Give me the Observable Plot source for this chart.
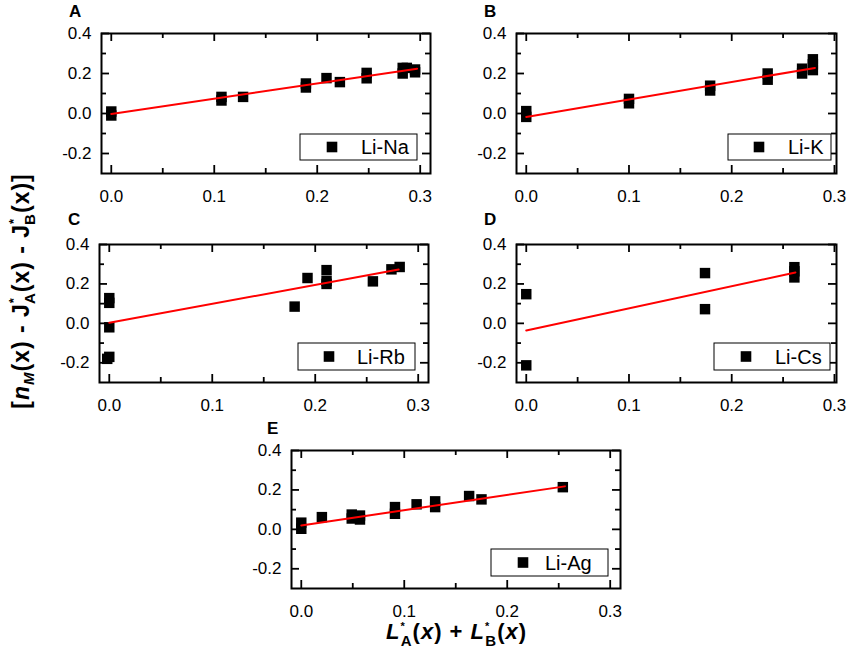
<!DOCTYPE html>
<html>
<head>
<meta charset="utf-8">
<script src="https://cdn.jsdelivr.net/npm/d3@7"></script>
<script src="https://cdn.jsdelivr.net/npm/@observablehq/plot@0.6"></script>
<style>
  html, body { margin: 0; padding: 0; background: #fff; overflow: hidden; }
  #wrap { position: relative; width: 847px; height: 655px; background: #fff; overflow: hidden;
          font-family: Arial, "Liberation Sans", sans-serif; }
  #wrap svg { position: absolute; }
</style>
</head>
<body>
<div id="wrap"></div>
<script>
// ---- tick values ----
const xMajorTicks = [0, 0.1, 0.2, 0.3];
const xMinorTicks = [0.05, 0.15, 0.25];
const yMajorTicks = [-0.2, 0, 0.2, 0.4];
const yMinorTicks = [-0.1, 0.1, 0.3];

// ---- panel labels / series names ----
const panelLetters = ["A", "B", "C", "D", "E"];
const seriesNames = ["Li-Na", "Li-K", "Li-Rb", "Li-Cs", "Li-Ag"];

// ---- A: Li-Na ----
const liNaX = [0, 0, 0.107, 0.107, 0.128, 0.189, 0.189, 0.209, 0.222, 0.248, 0.248, 0.283, 0.283, 0.287, 0.295, 0.295];
const liNaY = [0.01, -0.01, 0.083, 0.065, 0.083, 0.15, 0.13, 0.177, 0.157, 0.203, 0.176, 0.228, 0.2, 0.228, 0.22, 0.206];
const liNaFitX = [0, 0.297];
const liNaFitY = [-0.002, 0.224];

// ---- B: Li-K ----
const liKX = [0, 0, 0.1, 0.1, 0.179, 0.179, 0.235, 0.235, 0.2685, 0.2685, 0.279, 0.279, 0.279];
const liKY = [0.012, -0.017, 0.073, 0.051, 0.139, 0.115, 0.2, 0.169, 0.224, 0.2, 0.271, 0.246, 0.217];
const liKFitX = [0, 0.281];
const liKFitY = [-0.017, 0.228];

// ---- C: Li-Rb ----
const liRbX = [0, 0, 0, 0, -0.002, 0.18, 0.1925, 0.211, 0.211, 0.211, 0.256, 0.274, 0.282];
const liRbY = [0.128, 0.104, -0.02, -0.17, -0.18, 0.085, 0.23, 0.27, 0.215, 0.2, 0.213, 0.274, 0.286];
const liRbFitX = [0, 0.281];
const liRbFitY = [0.003, 0.273];

// ---- D: Li-Cs ----
const liCsX = [0, 0, 0.174, 0.174, 0.261, 0.261, 0.261];
const liCsY = [0.148, -0.213, 0.255, 0.072, 0.285, 0.264, 0.233];
const liCsFitX = [0, 0.262];
const liCsFitY = [-0.036, 0.258];

// ---- E: Li-Ag ----
const liAgX = [0, 0, 0.02, 0.049, 0.049, 0.057, 0.057, 0.091, 0.091, 0.112, 0.13, 0.13, 0.163, 0.175, 0.254];
const liAgY = [0.034, 0.003, 0.062, 0.075, 0.055, 0.07, 0.05, 0.113, 0.079, 0.127, 0.142, 0.113, 0.169, 0.152, 0.214];
const liAgFitX = [0, 0.256];
const liAgFitY = [0.02, 0.218];

const FONT = 'Arial, "Liberation Sans", sans-serif';
const fmt = d => (d < 0 ? "-" : "") + Math.abs(d).toFixed(1);
const wrap = document.getElementById("wrap");

// layout: frame left/top/width/height, x max
const layouts = [
  {fl: 101, ft: 33,  fw: 329, fh: 140, xmax: 0.31,  leg: [300, 134, 117, 26, 332, 361], let: [69, 17]},
  {fl: 516, ft: 33,  fw: 320, fh: 140, xmax: 0.302, leg: [728, 134, 103, 26, 759, 788], let: [484, 17]},
  {fl: 99,  ft: 244, fw: 329, fh: 138, xmax: 0.31,  leg: [298, 343, 117, 27, 329, 357], let: [68, 225]},
  {fl: 516, ft: 244, fw: 320, fh: 138, xmax: 0.302, leg: [714, 343, 116, 27, 746, 775], let: [484, 225]},
  {fl: 291, ft: 450, fw: 329, fh: 138, xmax: 0.31,  leg: [491, 549, 117, 27, 523, 545], let: [267, 434]}
];
const series = [
  [liNaX, liNaY, liNaFitX, liNaFitY],
  [liKX, liKY, liKFitX, liKFitY],
  [liRbX, liRbY, liRbFitX, liRbFitY],
  [liCsX, liCsY, liCsFitX, liCsFitY],
  [liAgX, liAgY, liAgFitX, liAgFitY]
];

function makePanel(i) {
  const L = layouts[i];
  const [xs, ys, fx, fy] = series[i];
  const pts = xs.map((x, k) => ({x, y: ys[k]}));
  const fit = fx.map((x, k) => ({x, y: fy[k]}));
  const mL = 60, mR = 14, mT = 8, mB = 40;
  const tk = {stroke: "black", strokeWidth: 1.8};
  const svg = Plot.plot({
    width: mL + L.fw + mR,
    height: mT + L.fh + mB,
    marginLeft: mL, marginRight: mR, marginTop: mT, marginBottom: mB,
    x: {domain: [-0.0095, L.xmax]},
    y: {domain: [-0.3, 0.4]},
    style: {fontFamily: FONT, fontSize: "17px", color: "black", background: "transparent", overflow: "visible"},
    marks: [
      Plot.tickY(yMajorTicks, {y: d => d, insetRight: L.fw - 8, ...tk}),
      Plot.tickY(yMajorTicks, {y: d => d, insetLeft: L.fw - 8, ...tk}),
      Plot.tickY(yMinorTicks, {y: d => d, insetRight: L.fw - 5, ...tk}),
      Plot.tickY(yMinorTicks, {y: d => d, insetLeft: L.fw - 5, ...tk}),
      Plot.tickX(xMajorTicks, {x: d => d, insetTop: L.fh - 8, ...tk}),
      Plot.tickX(xMajorTicks, {x: d => d, insetBottom: L.fh - 8, ...tk}),
      Plot.tickX(xMinorTicks, {x: d => d, insetTop: L.fh - 5, ...tk}),
      Plot.tickX(xMinorTicks, {x: d => d, insetBottom: L.fh - 5, ...tk}),
      Plot.axisX(xMajorTicks, {tickSize: 0, tickPadding: 16, tickFormat: fmt, label: null}),
      Plot.axisY(yMajorTicks, {tickSize: 0, tickPadding: 10, tickFormat: fmt, label: null}),
      Plot.frame({stroke: "black", strokeWidth: 2}),
      Plot.dot(pts, {x: "x", y: "y", symbol: "square", r: 5.9, fill: "black"}),
      Plot.line(fit, {x: "x", y: "y", stroke: "red", strokeWidth: 2})
    ]
  });
  svg.style.left = (L.fl - mL) + "px";
  svg.style.top = (L.ft - mT) + "px";
  wrap.appendChild(svg);
}
for (let i = 0; i < 5; i++) makePanel(i);

// overlay: panel letters, legends, axis titles
const NS = "http://www.w3.org/2000/svg";
const ov = document.createElementNS(NS, "svg");
ov.setAttribute("width", 847);
ov.setAttribute("height", 655);
ov.style.left = "0px"; ov.style.top = "0px";
ov.style.fontFamily = FONT;
let html = "";
layouts.forEach((L, i) => {
  const [bx, by, bw, bh, mx, tx] = L.leg;
  const cy = by + bh / 2;
  html += `<text x="${L.let[0]}" y="${L.let[1]}" font-size="17" font-weight="bold">${panelLetters[i]}</text>`;
  html += `<rect x="${bx}" y="${by}" width="${bw}" height="${bh}" fill="white" stroke="black" stroke-width="1"/>`;
  html += `<rect x="${mx - 5.3}" y="${cy - 5.3}" width="10.6" height="10.6" fill="black"/>`;
  html += `<text x="${tx}" y="${cy + 7}" font-size="20">${seriesNames[i]}</text>`;
});
// x title
html += `<text x="386" y="639" font-size="22" font-weight="bold" letter-spacing="1">` +
  `<tspan font-style="italic">L</tspan><tspan font-size="11" dx="0" dy="-9">*</tspan><tspan font-size="15" dx="-5" dy="16">A</tspan>` +
  `<tspan dy="-7">(</tspan><tspan font-style="italic">x</tspan><tspan>) + </tspan>` +
  `<tspan font-style="italic">L</tspan><tspan font-size="11" dx="0" dy="-9">*</tspan><tspan font-size="15" dx="-5" dy="16">B</tspan>` +
  `<tspan dy="-7">(</tspan><tspan font-style="italic">x</tspan><tspan>)</tspan></text>`;
// y title
html += `<text transform="translate(29,291) rotate(-90)" text-anchor="middle" font-size="23" font-weight="bold" letter-spacing="1">` +
  `<tspan>[</tspan><tspan font-style="italic">n</tspan><tspan font-style="italic" font-size="15" dy="5">M</tspan>` +
  `<tspan dy="-5">(x) - J</tspan><tspan font-size="13" dx="0" dy="-11">*</tspan><tspan font-size="15" dx="-7" dy="17">A</tspan>` +
  `<tspan dy="-6">(x) - J</tspan><tspan font-size="13" dx="0" dy="-11">*</tspan><tspan font-size="15" dx="-7" dy="17">B</tspan>` +
  `<tspan dy="-6">(x)]</tspan></text>`;
ov.innerHTML = html;
wrap.appendChild(ov);
</script>
</body>
</html>
